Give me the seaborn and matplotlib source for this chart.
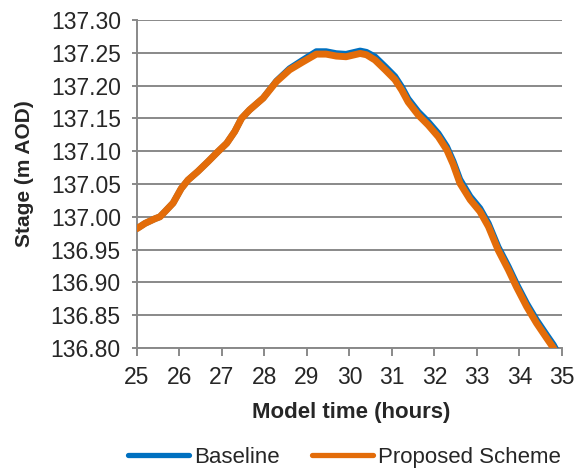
import numpy as np
import pandas as pd
import matplotlib
matplotlib.use("Agg")
import matplotlib.pyplot as plt
import seaborn as sns

# ---------- DATA ----------
hours = [25.00, 25.19, 25.42, 25.54, 25.66, 25.85, 26.04, 26.20, 26.43, 26.67,
         26.90, 27.11, 27.30, 27.46, 27.65, 27.97, 28.28, 28.59, 28.90, 29.22,
         29.45, 29.69, 29.92, 30.25, 30.40, 30.60, 30.84, 31.07, 31.23, 31.38,
         31.62, 31.85, 32.09, 32.29, 32.44, 32.60, 32.84, 33.07, 33.27, 33.50,
         33.74, 33.93, 34.17, 34.40, 34.64, 34.80, 34.95]

baseline = [136.982, 136.990, 136.997, 137.000, 137.008, 137.021, 137.043, 137.056, 137.069, 137.084,
            137.099, 137.112, 137.130, 137.150, 137.163, 137.181, 137.207, 137.226, 137.239, 137.252,
            137.252, 137.249, 137.248, 137.253, 137.251, 137.244, 137.229, 137.214, 137.198, 137.180,
            137.160, 137.145, 137.127, 137.107, 137.085, 137.057, 137.031, 137.013, 136.990, 136.954,
            136.924, 136.898, 136.868, 136.843, 136.820, 136.805, 136.787]

proposed = [136.982, 136.990, 136.997, 137.000, 137.008, 137.021, 137.043, 137.056, 137.069, 137.084,
            137.099, 137.112, 137.130, 137.150, 137.163, 137.181, 137.206, 137.224, 137.236, 137.248,
            137.248, 137.245, 137.244, 137.249, 137.247, 137.239, 137.224, 137.209, 137.193, 137.175,
            137.155, 137.140, 137.122, 137.102, 137.080, 137.051, 137.026, 137.008, 136.985, 136.949,
            136.919, 136.893, 136.863, 136.838, 136.815, 136.800, 136.782]

series_names = ["Baseline", "Proposed Scheme"]
series_colors = ["#0070C0", "#E36C09"]
x_ticks = list(range(25, 36))
y_ticks = [136.80, 136.85, 136.90, 136.95, 137.00, 137.05, 137.10, 137.15, 137.20, 137.25, 137.30]

df = pd.DataFrame({
    "hours": hours * 2,
    "stage": baseline + proposed,
    "series": [series_names[0]] * len(hours) + [series_names[1]] * len(hours),
})

# ---------- STYLE ----------
sns.set_style("white")
plt.rcParams["font.family"] = ["Liberation Sans", "DejaVu Sans"]
grid_col = "#898989"

fig = plt.figure(figsize=(5.77, 4.68), dpi=100)
ax = fig.add_axes([0.2374, 0.2564, 0.7366, 0.7009])

widths = {"Baseline": 4.6, "Proposed Scheme": 5.0}
for name, col in zip(series_names, series_colors):
    sub = df[df["series"] == name]
    sns.lineplot(data=sub, x="hours", y="stage", ax=ax, color=col,
                 linewidth=widths[name], label=name, solid_capstyle="round",
                 solid_joinstyle="round", zorder=3)

ax.set_xlim(25, 35)
ax.set_ylim(136.80, 137.30)
ax.set_xticks(x_ticks)
ax.set_yticks(y_ticks)
ax.set_yticklabels([f"{v:.2f}" for v in y_ticks])

ax.grid(axis="y", color=grid_col, linewidth=1.4)
ax.grid(axis="x", visible=False)
ax.set_axisbelow(True)

for s in ["top", "right"]:
    ax.spines[s].set_visible(False)
for s in ["left", "bottom"]:
    ax.spines[s].set_color(grid_col)
    ax.spines[s].set_linewidth(1.4)

ax.tick_params(axis="x", direction="out", length=5.8, width=1.4, color=grid_col,
               labelsize=16.5, pad=7, bottom=True)
ax.tick_params(axis="y", direction="out", length=3.6, width=1.4, color=grid_col,
               labelsize=16.5, pad=8, left=True)

ax.set_xlabel("Model time (hours)", fontsize=16, fontweight="bold")
ax.xaxis.set_label_coords(0.505, -0.198)
ax.xaxis.label.set_va("center")
ax.set_ylabel("Stage (m AOD)", fontsize=15, fontweight="bold")
ax.yaxis.set_label_coords(-0.265, 0.532)
ax.yaxis.label.set_va("center")

leg = ax.legend(loc="center", bbox_to_anchor=(0.597, 0.022), bbox_transform=fig.transFigure,
                ncol=2, frameon=False, fontsize=16, handlelength=2.75, handletextpad=0.22,
                columnspacing=1.45, borderpad=0)
for ln in leg.get_lines():
    ln.set_linewidth(3.8)

fig.savefig("out.png", dpi=100)
